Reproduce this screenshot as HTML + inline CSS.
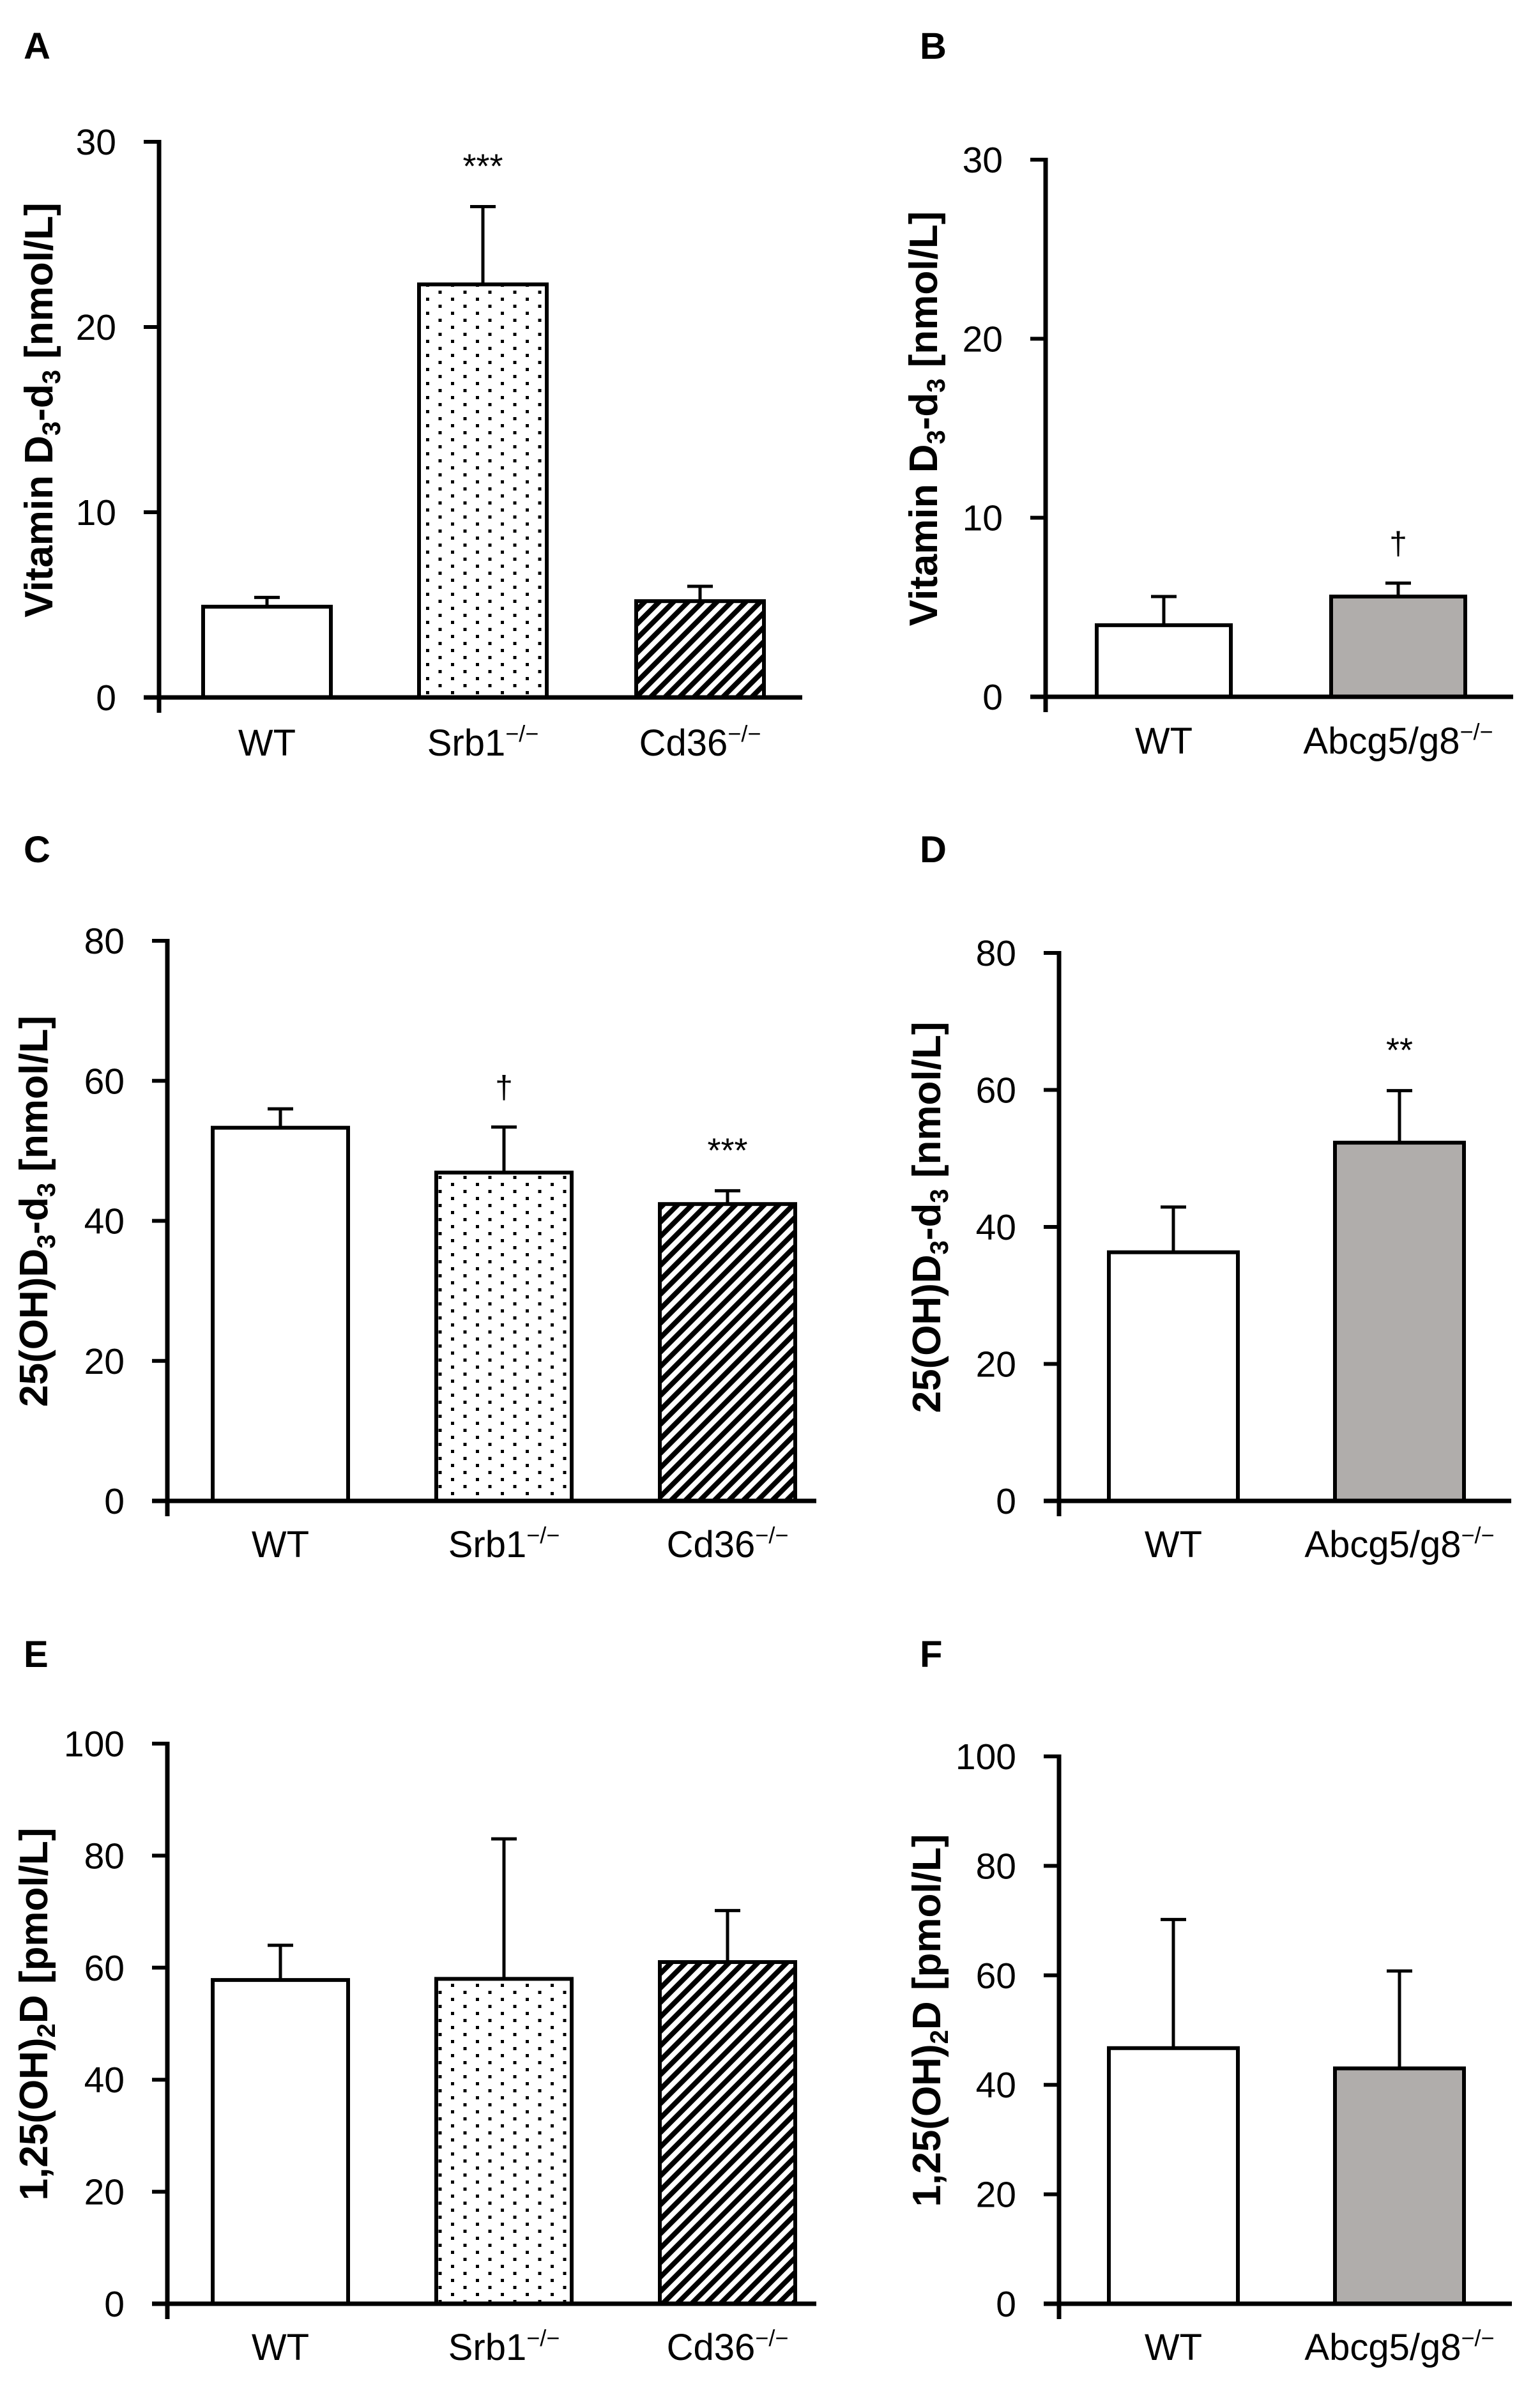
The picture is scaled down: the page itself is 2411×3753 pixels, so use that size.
<!DOCTYPE html>
<html><head><meta charset="utf-8"><style>
html,body{margin:0;padding:0;background:#fff}
svg{display:block}
text{font-family:"Liberation Sans",sans-serif;fill:#000}
</style></head><body>
<svg id="fig" width="2411" height="3753" viewBox="0 0 2411 3753" xmlns="http://www.w3.org/2000/svg">
<defs>
<pattern id="dots" width="39" height="22" patternUnits="userSpaceOnUse">
<rect x="4" y="4" width="5" height="5" fill="#000"/><rect x="23.5" y="15" width="5" height="5" fill="#000"/>
</pattern>
<pattern id="hatch" width="16" height="16" patternUnits="userSpaceOnUse" patternTransform="rotate(45)">
<rect width="16" height="16" fill="#fff"/><rect x="0" y="0" width="8" height="16" fill="#000"/>
</pattern>
</defs>
</svg>
<script>
const catsABC = ['WT','Srb1','Cd36'];
const catsBD = ['WT','Abcg5/g8'];
const valsA = [4.9, 22.3, 5.2];
const errA = [5.4, 26.5, 6.0];
const valsB = [4.0, 5.6];
const errB = [5.6, 6.35];
const valsC = [53.3, 46.9, 42.4];
const errC = [56.0, 53.4, 44.3];
const valsD = [36.3, 52.3];
const errD = [42.9, 59.9];
const valsE = [57.8, 58.0, 61.0];
const errE = [64.0, 83.0, 70.2];
const valsF = [46.7, 43.0];
const errF = [70.2, 60.8];
const ticksA = [0,10,20,30];
const ticksC = [0,20,40,60,80];
const ticksE = [0,20,40,60,80,100];
const sigA = ['', '***', ''];
const sigB = ['', '†'];
const sigC = ['', '†', '***'];
const sigD = ['', '**'];
const sigE = ['', '', ''];
const sigF = ['', ''];

const NS='http://www.w3.org/2000/svg';
const svg=document.getElementById('fig');
function el(tag,attrs,parent){const e=document.createElementNS(NS,tag);for(const k in attrs)e.setAttribute(k,attrs[k]);(parent||svg).appendChild(e);return e;}
const fills={WT:'#fff',Srb1:'url(#dots)',Cd36:'url(#hatch)','Abcg5/g8':'#b0adab'};

function panel(p){
  const g=el('g',{});
  
  
  const sy=v=>p.y0-(v-0)/(p.max)*(p.y0-p.yTop);
  const L=el('text',{x:p.lx,y:p.ly,'font-size':58,'font-weight':'bold'},g);L.textContent=p.letter;
  
  
  const midY=(p.y0+p.yTop)/2-15;
  const t=el('text',{x:0,y:0,'font-size':62,'font-weight':'bold','text-anchor':'middle',transform:`translate(${p.tx+22},${midY}) rotate(-90)`},g);
  
  
  p.title.forEach(([s,sub])=>{const ts=el('tspan',sub?{'font-size':40,dy:12}:{dy:sub===false?-12:0},t);ts.textContent=s;});
  p.cats.forEach((c,i)=>{
    const x=p.bx[i],w=p.bw,yv=sy(p.vals[i]),ye=sy(p.err[i]),cx=x+w/2;
    const eb=el('line',{x1:cx,x2:cx,y1:yv,y2:ye,stroke:'#000','stroke-width':5},g);
    
    
    el('line',{x1:cx-20,x2:cx+20,y1:ye,y2:ye,stroke:'#000','stroke-width':5},g);
    const r=el('rect',{x:x,y:yv,width:w,height:p.y0-yv,fill:fills[c],stroke:'#000','stroke-width':6},g);
    
    
    const lab=el('text',{x:cx,y:p.labY,'font-size':58,'text-anchor':'middle'},g);
    
    
    const t1=el('tspan',{},lab);t1.textContent=c;
    if(c!=='WT'){const t2=el('tspan',{'font-size':36,dy:-22},lab);t2.textContent='−/−';}
    if(p.sig[i]){const s=el('text',{x:cx,y:ye-45,'font-size':p.sig[i]==='†'?50:54,'text-anchor':'middle'},g);s.textContent=p.sig[i];
      
      }
  });
  const ya=el('line',{x1:p.ax,x2:p.ax,y1:p.yTop-3,y2:p.y0+24,stroke:'#000','stroke-width':7},g);
  
  
  const xa=el('line',{x1:p.ax-24,x2:p.xEnd,y1:p.y0,y2:p.y0,stroke:'#000','stroke-width':7},g);
  
  
  p.ticks.forEach(v=>{
    const y=sy(v);
    el('line',{x1:p.ax-24,x2:p.ax,y1:y,y2:y,stroke:'#000','stroke-width':6},g);
    const tl=el('text',{x:p.ax-67,y:y+20,'font-size':57,'text-anchor':'end'},g);tl.textContent=v;
    
    
  });
}
const tVD=[['Vitamin D'],['3',true],['-d',false],['3',true],[' [nmol/L]',false]];
const t25=[['25(OH)D'],['3',true],['-d',false],['3',true],[' [nmol/L]',false]];
const t125=[['1,25(OH)'],['2',true],['D [pmol/L]',false]];
panel({letter:'A',lx:37,ly:92,ax:249,yTop:222,y0:1092,max:30,ticks:ticksA,cats:catsABC,vals:valsA,err:errA,sig:sigA,bx:[318,656,996],bw:200,xEnd:1256,labY:1183,tx:60,title:tVD});
panel({letter:'B',lx:1440,ly:92,ax:1637,yTop:250,y0:1091,max:30,ticks:ticksA,cats:catsBD,vals:valsB,err:errB,sig:sigB,bx:[1717,2084],bw:210,xEnd:2369,labY:1180,tx:1445,title:tVD});
panel({letter:'C',lx:37,ly:1350,ax:262,yTop:1473,y0:2350,max:80,ticks:ticksC,cats:catsABC,vals:valsC,err:errC,sig:sigC,bx:[333,683,1033],bw:212,xEnd:1278,labY:2438,tx:52,title:t25});
panel({letter:'D',lx:1440,ly:1350,ax:1658,yTop:1492,y0:2350,max:80,ticks:ticksC,cats:catsBD,vals:valsD,err:errD,sig:sigD,bx:[1736,2090],bw:202,xEnd:2366,labY:2438,tx:1450,title:t25});
panel({letter:'E',lx:37,ly:2610,ax:262,yTop:2730,y0:3607,max:100,ticks:ticksE,cats:catsABC,vals:valsE,err:errE,sig:sigE,bx:[333,683,1033],bw:212,xEnd:1278,labY:3695,tx:52,title:t125});
panel({letter:'F',lx:1440,ly:2610,ax:1658,yTop:2750,y0:3607,max:100,ticks:ticksE,cats:catsBD,vals:valsF,err:errF,sig:sigF,bx:[1736,2090],bw:202,xEnd:2367,labY:3695,tx:1450,title:t125});
</script>
</body></html>
